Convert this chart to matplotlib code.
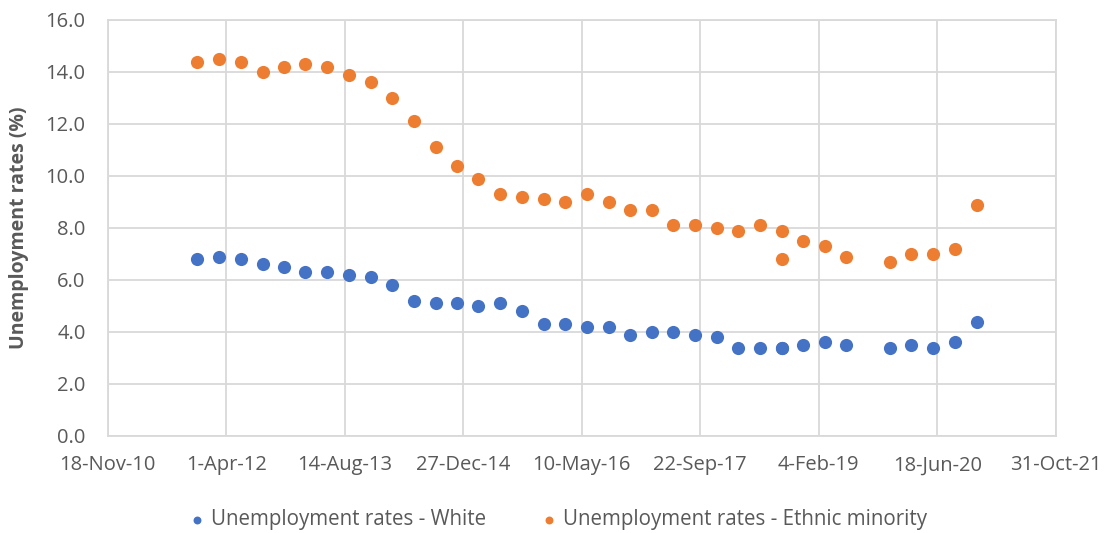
import pandas as pd
import numpy as np
import matplotlib.pyplot as plt
import matplotlib.dates as mdates
from matplotlib.ticker import FuncFormatter

# Quarterly dates (Sep-18 appears twice in the source data, Sep-19 is missing)
dates = ["2011-12-01", "2012-03-01", "2012-06-01", "2012-09-01",
         "2012-12-01", "2013-03-01", "2013-06-01", "2013-09-01",
         "2013-12-01", "2014-03-01", "2014-06-01", "2014-09-01",
         "2014-12-01", "2015-03-01", "2015-06-01", "2015-09-01",
         "2015-12-01", "2016-03-01", "2016-06-01", "2016-09-01",
         "2016-12-01", "2017-03-01", "2017-06-01", "2017-09-01",
         "2017-12-01", "2018-03-01", "2018-06-01", "2018-09-01",
         "2018-09-01", "2018-12-01", "2019-03-01", "2019-06-01",
         "2019-12-01", "2020-03-01", "2020-06-01", "2020-09-01",
         "2020-12-01"]

white = [6.8, 6.9, 6.8, 6.6, 6.5, 6.3, 6.3, 6.2,
         6.1, 5.8, 5.2, 5.1, 5.1, 5.0, 5.1, 4.8,
         4.3, 4.3, 4.2, 4.2, 3.9, 4.0, 4.0, 3.9,
         3.8, 3.4, 3.4, 3.4, 3.4, 3.5, 3.6, 3.5,
         3.4, 3.5, 3.4, 3.6, 4.4]

ethnic = [14.4, 14.5, 14.4, 14.0, 14.2, 14.3, 14.2, 13.9,
          13.6, 13.0, 12.1, 11.1, 10.4, 9.9, 9.3, 9.2,
          9.1, 9.0, 9.3, 9.0, 8.7, 8.7, 8.1, 8.1,
          8.0, 7.9, 8.1, 7.9, 6.8, 7.5, 7.3, 6.9,
          6.7, 7.0, 7.0, 7.2, 8.9]

series_names = ["Unemployment rates - White", "Unemployment rates - Ethnic minority"]

# x-axis ticks every 500 days, as in the Excel chart
x_start = pd.Timestamp("2010-11-18")
x_ticks = [x_start + pd.Timedelta(days=500 * i) for i in range(9)]

plt.rcParams["font.family"] = ["Open Sans", "DejaVu Sans"]
gray = "#595959"
grid_col = "#d9d9d9"

x = pd.to_datetime(dates)

fig = plt.figure(figsize=(11.07, 5.33), dpi=100)
ax = fig.add_axes([0.0974, 0.182, 0.8563, 0.7805])

ax.scatter(x, white, s=90, color="#4472C4", label=series_names[0], zorder=3, linewidths=0)
ax.scatter(x, ethnic, s=90, color="#ED7D31", label=series_names[1], zorder=3, linewidths=0)

ax.set_xlim(x_ticks[0], x_ticks[-1])
ax.set_xticks(x_ticks)
ax.xaxis.set_major_formatter(FuncFormatter(
    lambda v, pos: "{}-{}".format(mdates.num2date(v).day, mdates.num2date(v).strftime("%b-%y"))))
ax.set_ylim(0, 16)
ax.set_yticks(np.arange(0, 16.1, 2))
ax.yaxis.set_major_formatter(FuncFormatter(lambda v, pos: f"{v:.1f}"))

ax.grid(True, color=grid_col, linewidth=1.3)
ax.set_axisbelow(True)
for s in ax.spines.values():
    s.set_color(grid_col)
    s.set_linewidth(1.3)
ax.tick_params(length=0, labelsize=14.5, labelcolor=gray)
ax.tick_params(axis="y", pad=16)
ax.tick_params(axis="x", pad=14)

ax.set_ylabel("Unemployment rates (%)", fontsize=14, fontweight="bold", color=gray)
ax.yaxis.set_label_coords(-0.083, 0.5)

fig.legend(loc="center", bbox_to_anchor=(0.503, 0.025), ncol=2, frameon=False,
           fontsize=14.8, labelcolor=gray, handlelength=1.0, handletextpad=0.15,
           columnspacing=2.6, markerscale=0.6)

plt.savefig("out.png", dpi=100)
